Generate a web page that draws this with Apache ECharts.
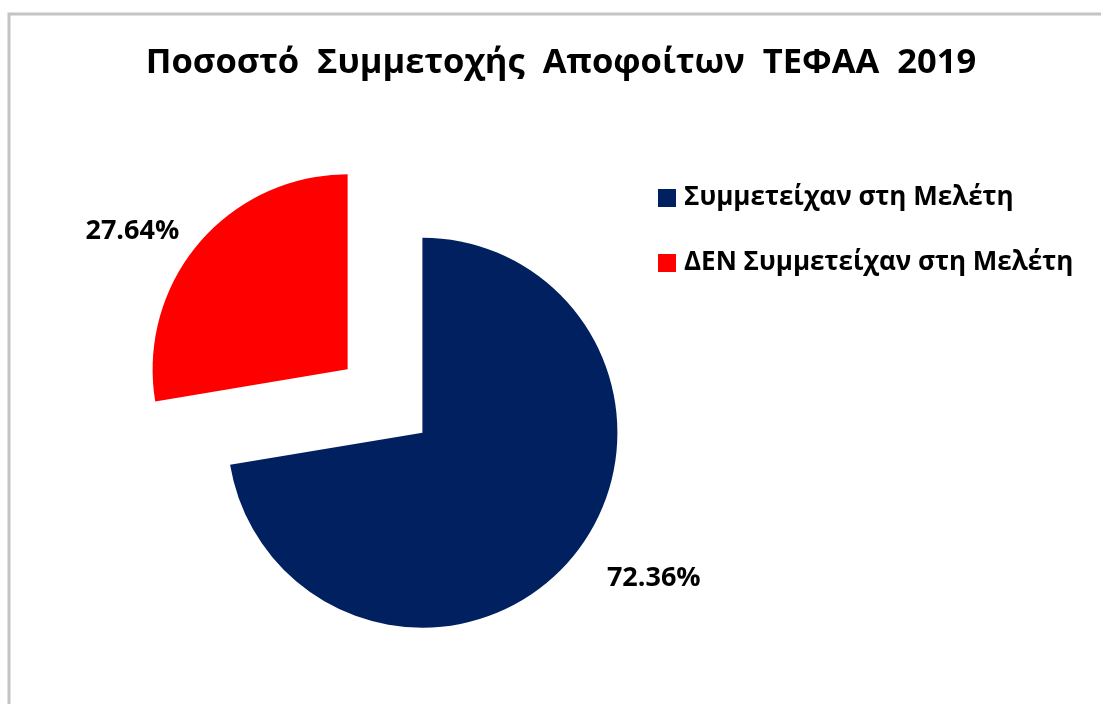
<!DOCTYPE html>
<html lang="el">
<head>
    <meta charset="utf-8"/>
    <title>Ποσοστό Συμμετοχής Αποφοίτων ΤΕΦΑΑ 2019</title>
    <script src="https://cdn.jsdelivr.net/npm/echarts@6/dist/echarts.min.js"></script>
    <style>
        html, body { margin: 0; padding: 0; background: #fff; }
        #chart { width: 1101px; height: 704px; }
    </style>
</head>
<body>
<div id="chart"></div>
<script type="text/javascript">
    // data
    var categories = ['Συμμετείχαν στη Μελέτη', 'ΔΕΝ Συμμετείχαν στη Μελέτη'];
    var values = [72.36, 27.64];
    var colors = ['#002060', '#ff0000'];
    var titleText = 'Ποσοστό  Συμμετοχής  Αποφοίτων  ΤΕΦΑΑ  2019';

    var FONT = '"Open Sans", "Noto Sans", sans-serif';

    // label placement per slice (Excel put them slightly differently)
    var labelLines = [
        {show: false, length: 31, length2: 7},
        {show: false, length: 19, length2: 0}
    ];

    var pieData = categories.map(function (name, i) {
        return {
            name: name,
            value: values[i],
            selected: true,
            itemStyle: {color: colors[i]},
            labelLine: labelLines[i]
        };
    });

    var myChart = echarts.init(document.getElementById('chart'), null, {renderer: 'canvas'});

    var option = {
        animation: false,
        backgroundColor: '#fff',
        graphic: [{
            type: 'rect',
            z: -10,
            shape: {x: 9, y: 14, width: 1300, height: 900},
            style: {fill: 'none', stroke: '#c4c4c4', lineWidth: 3}
        }],
        title: {
            text: titleText,
            left: 556,
            top: 38,
            textAlign: 'center',
            textStyle: {
                fontFamily: FONT,
                fontWeight: 'bold',
                fontSize: 34.5,
                lineHeight: 40,
                color: '#000'
            }
        },
        legend: {
            orient: 'vertical',
            left: 653,
            top: 180,
            itemWidth: 18,
            itemGap: 39,
            itemHeight: 18,
            icon: 'rect',
            selectedMode: false,
            data: categories,
            textStyle: {
                fontFamily: FONT,
                fontWeight: 'bold',
                fontSize: 26,
                lineHeight: 26,
                color: '#000',
                padding: [0, 0, 0, 3]
            }
        },
        series: [{
            type: 'pie',
            center: [385, 401],
            radius: 195,
            startAngle: 90,
            clockwise: true,
            selectedMode: 'multiple',
            selectedOffset: 49,
            avoidLabelOverlap: false,
            emphasis: {disabled: true},
            label: {
                show: true,
                position: 'outside',
                distanceToLabelLine: 5,
                fontFamily: FONT,
                fontWeight: 'bold',
                fontSize: 27,
                color: '#000',
                formatter: function (p) {
                    return p.value.toFixed(2) + '%';
                }
            },
            labelLine: {show: false},
            data: pieData
        }]
    };

    myChart.setOption(option, true);
</script>
</body>
</html>
